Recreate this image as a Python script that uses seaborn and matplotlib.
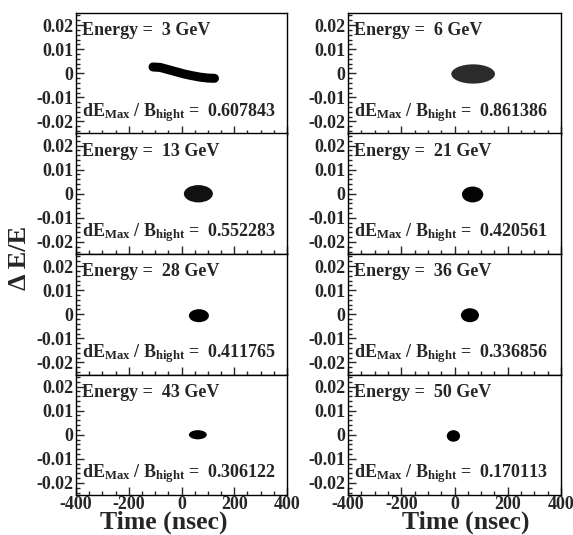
import matplotlib
matplotlib.use("Agg")
import matplotlib.pyplot as plt
from matplotlib.patches import Ellipse
from matplotlib.ticker import MultipleLocator
import seaborn as sns
import warnings
warnings.filterwarnings("ignore")

sns.set_style("ticks")
plt.rcParams["font.family"] = ["Liberation Serif", "DejaVu Serif"]
plt.rcParams["font.weight"] = "bold"
plt.rcParams["mathtext.fontset"] = "custom"
plt.rcParams["mathtext.rm"] = "Liberation Serif:bold"
plt.rcParams["mathtext.bf"] = "Liberation Serif:bold"
plt.rcParams["mathtext.it"] = "Liberation Serif:bold"
plt.rcParams["axes.unicode_minus"] = False

# -------------------------------
# Data
# -------------------------------
energies = [3, 6, 13, 21, 28, 36, 43, 50]
ratios = ["0.607843", "0.861386", "0.552283", "0.420561",
          "0.411765", "0.336856", "0.306122", "0.170113"]

# 3 GeV: bunch is a curved band, given by its centre line
track_time = [-108, -80, -50, -20, 10, 40, 70, 100, 125]
track_de = [0.0026, 0.0024, 0.0015, 0.0006, -0.0003, -0.0010, -0.0016, -0.0020, -0.0021]

# other energies: bunch centre and half sizes
bunch_time = [None, 70, 64, 68, 66, 58, 62, -4]
bunch_de = [None, -0.0003, 0.0, -0.0003, -0.0006, -0.0004, 0.0, -0.0005]
bunch_half_t = [None, 82, 55, 40, 38, 34, 34, 25]
bunch_half_de = [None, 0.0040, 0.0036, 0.0033, 0.0027, 0.0029, 0.0019, 0.0024]
bunch_color = [None, "#2b2b2b", "#111111", "#050505", "#000000", "#000000", "#000000", "#000000"]

ytick_vals = [-0.02, -0.01, 0, 0.01, 0.02]
ytick_labels = ["-0.02", "-0.01", "0", "0.01", "0.02"]
xtick_vals = [-400, -200, 0, 200, 400]
xtick_labels = ["-400", "-200", "0", "200", "400"]

W, H = 573, 535
fig = plt.figure(figsize=(W / 100, H / 100), dpi=100)

col_left = [76, 348]
col_width = [211, 213]
row_top = 13
row_h = 120.5

for i, e in enumerate(energies):
    r, c = divmod(i, 2)
    top = row_top + r * row_h
    ax = fig.add_axes([col_left[c] / W, 1 - (top + row_h) / H,
                       col_width[c] / W, row_h / H])

    if i == 0:
        sns.lineplot(x=track_time, y=track_de, ax=ax, color="black",
                     lw=6.5, sort=False, estimator=None,
                     solid_capstyle="round")
    else:
        ax.add_patch(Ellipse((bunch_time[i], bunch_de[i]),
                             2 * bunch_half_t[i], 2 * bunch_half_de[i],
                             facecolor=bunch_color[i], edgecolor="none"))

    ax.set_xlim(-400, 400)
    ax.set_ylim(-0.025, 0.025)
    ax.set_yticks(ytick_vals)
    ax.set_yticklabels(ytick_labels)
    ax.yaxis.set_minor_locator(MultipleLocator(0.002))
    ax.set_xticks(xtick_vals)
    ax.xaxis.set_minor_locator(MultipleLocator(50))
    if r == 3:
        ax.set_xticklabels(xtick_labels)
    else:
        ax.set_xticklabels([])

    ax.tick_params(axis="both", which="major", direction="in", length=6,
                   width=1, labelsize=13, top=False, right=False)
    ax.tick_params(axis="y", pad=2)
    ax.tick_params(axis="x", pad=0.5)
    ax.tick_params(axis="both", which="minor", direction="in", length=3,
                   width=1, top=False, right=False)
    for lab in ax.get_xticklabels() + ax.get_yticklabels():
        lab.set_fontweight("bold")
    for s in ax.spines.values():
        s.set_visible(True)
        s.set_linewidth(1.0)
        s.set_color("black")

    ax.text(0.028, 0.815, f"Energy =  {e} GeV", transform=ax.transAxes,
            fontsize=13, fontweight="bold", ha="left", va="baseline")
    ax.text(0.028, 0.143,
            r"dE$_{\rm Max}$ / B$_{\rm hight}$ =  " + ratios[i],
            transform=ax.transAxes, fontsize=13, fontweight="bold",
            ha="left", va="baseline")

fig.text(20 / W, 1 - 258 / H, "Δ E/E", rotation=90, fontsize=19,
         fontweight="bold", ha="center", va="center")
fig.text(164 / W, 1 - 529 / H, "Time (nsec)", fontsize=18.5,
         fontweight="bold", ha="center", va="baseline")
fig.text(466 / W, 1 - 529 / H, "Time (nsec)", fontsize=18.5,
         fontweight="bold", ha="center", va="baseline")

fig.savefig("out.png", dpi=100, facecolor="white")
